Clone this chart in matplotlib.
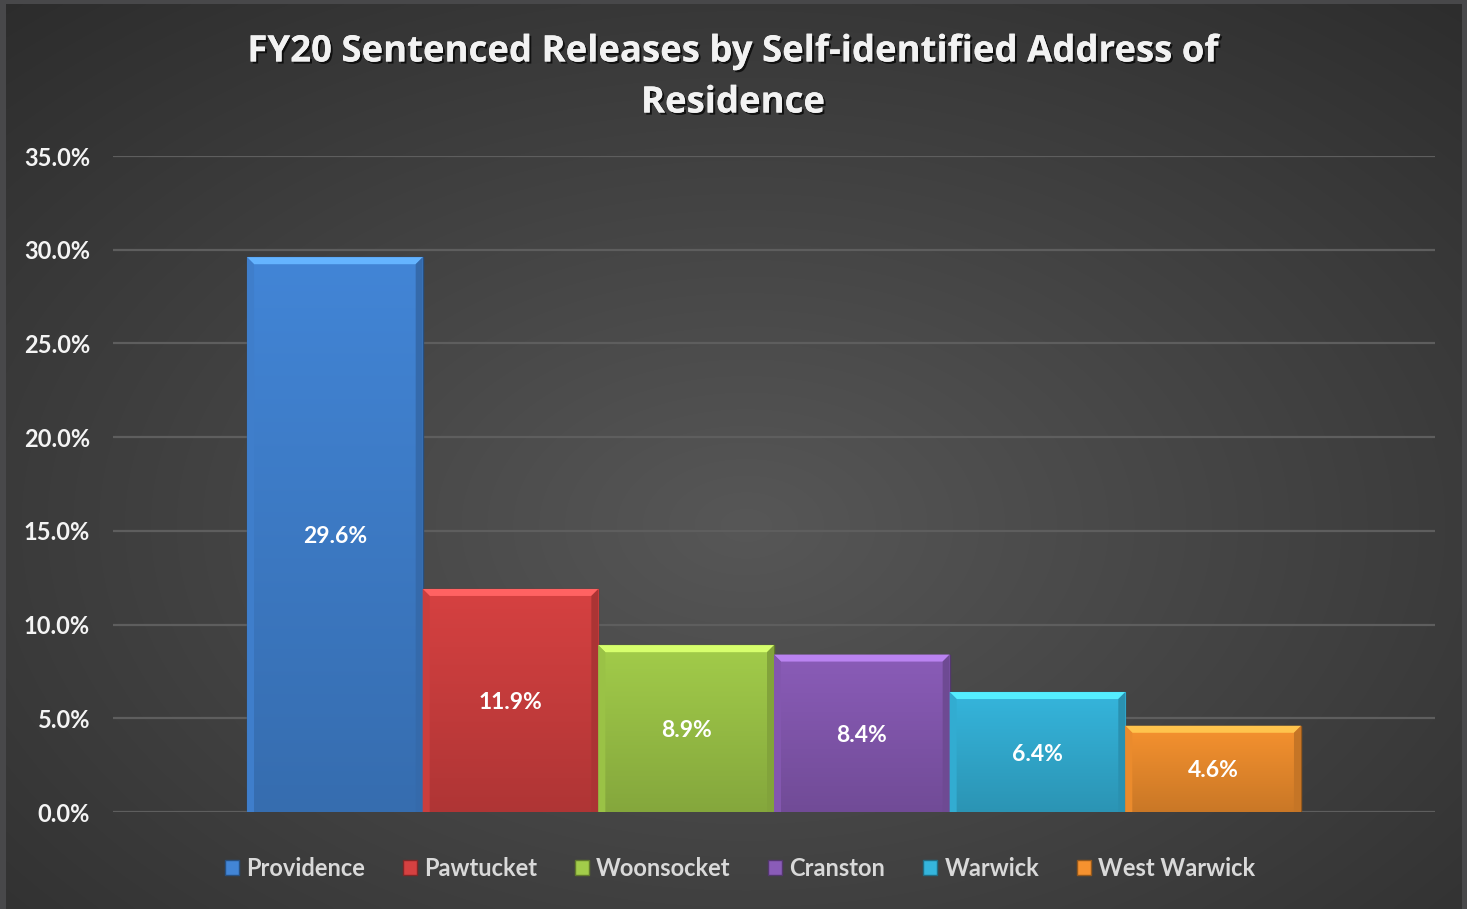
import numpy as np
import matplotlib
matplotlib.use("Agg")
import matplotlib.pyplot as plt
import matplotlib.patheffects as pe
from matplotlib.patches import Polygon
from matplotlib.colors import to_rgb
from matplotlib.ticker import PercentFormatter

# data
cities = ["Providence", "Pawtucket", "Woonsocket", "Cranston", "Warwick", "West Warwick"]
shares = [29.6, 11.9, 8.9, 8.4, 6.4, 4.6]
colors = ["#4285d6", "#d64141", "#a2cc4a", "#8a5cb8", "#35b5dc", "#f6922f"]
yticks = [0, 5, 10, 15, 20, 25, 30, 35]
title = "FY20 Sentenced Releases by Self-identified Address of\nResidence"

W, H = 1467, 909
fig = plt.figure(figsize=(W / 100, H / 100), dpi=100)
fig.patch.set_facecolor("#48484a")

# radial background gradient
bg = fig.add_axes([6 / W, 0, (1462 - 6) / W, 1 - 4 / H], zorder=-5)
yy, xx = np.mgrid[0:400, 0:650]
r = np.sqrt(((xx - 330) / 520) ** 2 + ((yy - 230) / 330) ** 2)
t = np.clip(r, 0, 1)[..., None]
inner = np.array(to_rgb("#575757"))
outer = np.array(to_rgb("#2a2a2a"))
bg.imshow(inner * (1 - t) + outer * t, aspect="auto", interpolation="bicubic")
bg.axis("off")

ax = fig.add_axes([113 / W, 1 - 812 / H, (1435 - 113) / W, (812 - 156) / H])
ax.set_facecolor("none")

x = np.arange(len(cities))
bw = 1.0
ypx = 35 / 656      # data units per pixel (y)
xpx = 1 / 175.7     # data units per pixel (x)
bev = 7

for i, (c, v, col) in enumerate(zip(cities, shares, colors)):
    base = np.array(to_rgb(col))
    bar = ax.bar(x[i], v, width=bw, color=col, edgecolor=tuple(base * 0.6),
                 linewidth=1.0, label=c, zorder=3)[0]
    # vertical gradient inside bar
    grad = np.linspace(1.0, 0.82, 50)[:, None, None] * base[None, None, :]
    im = ax.imshow(grad, extent=(x[i] - bw / 2, x[i] + bw / 2, 0, v),
                   aspect="auto", zorder=3.5, interpolation="bicubic")
    im.set_clip_path(bar)
    l, rr = x[i] - bw / 2, x[i] + bw / 2
    dx, dy = bev * xpx, bev * ypx
    light = tuple(np.clip(base * 1.2 + 0.08, 0, 1))
    ax.add_patch(Polygon([(l, v), (rr, v), (rr - dx, v - dy), (l + dx, v - dy)],
                         closed=True, color=light, lw=0, zorder=4))
    ax.add_patch(Polygon([(l, v), (l + dx, v - dy), (l + dx, 0), (l, 0)],
                         closed=True, color=tuple(base * 0.95), lw=0, zorder=4))
    ax.add_patch(Polygon([(rr, v), (rr - dx, v - dy), (rr - dx, 0), (rr, 0)],
                         closed=True, color=tuple(base * 0.8), lw=0, zorder=4))
    ax.text(x[i], v / 2, f"{v:.1f}%", ha="center", va="center_baseline", color="white",
            fontsize=16.5, fontweight="bold", family="Lato", zorder=6)

ax.set_xlim(-0.5 - 0.763, len(cities) - 0.5 + 0.763)
ax.set_ylim(0, 35)
ax.set_yticks(yticks)
ax.yaxis.set_major_formatter(PercentFormatter(decimals=1))
ax.set_xticks([])
ax.grid(axis="y", color="#5e5e5e", linewidth=1.6, zorder=0)
ax.tick_params(axis="y", length=0, pad=16.5, labelcolor="#f4f4f4", labelsize=17)
for lab in ax.get_yticklabels():
    lab.set_fontweight("bold")
    lab.set_family("Lato")
for s in ax.spines.values():
    s.set_visible(False)

fig.text(733 / W, 1 - 77 / H, title, ha="center", va="center", color="#f2f2f2",
         fontsize=26.3, fontweight="bold", family="Open Sans", linespacing=1.45,
         path_effects=[pe.withSimplePatchShadow(offset=(1.5, -1.5), shadow_rgbFace="black", alpha=0.7),
                       pe.Normal()])

leg = ax.legend(loc="center", bbox_to_anchor=(740 / W, 1 - 868 / H),
                bbox_transform=fig.transFigure, ncol=6, frameon=False,
                handlelength=0.6, handleheight=0.6, handletextpad=0.3,
                columnspacing=1.6,
                prop={"family": "Lato", "weight": "bold", "size": 17})
for txt in leg.get_texts():
    txt.set_color("#d9d9d9")

fig.savefig("out.png", dpi=100, facecolor=fig.get_facecolor())
